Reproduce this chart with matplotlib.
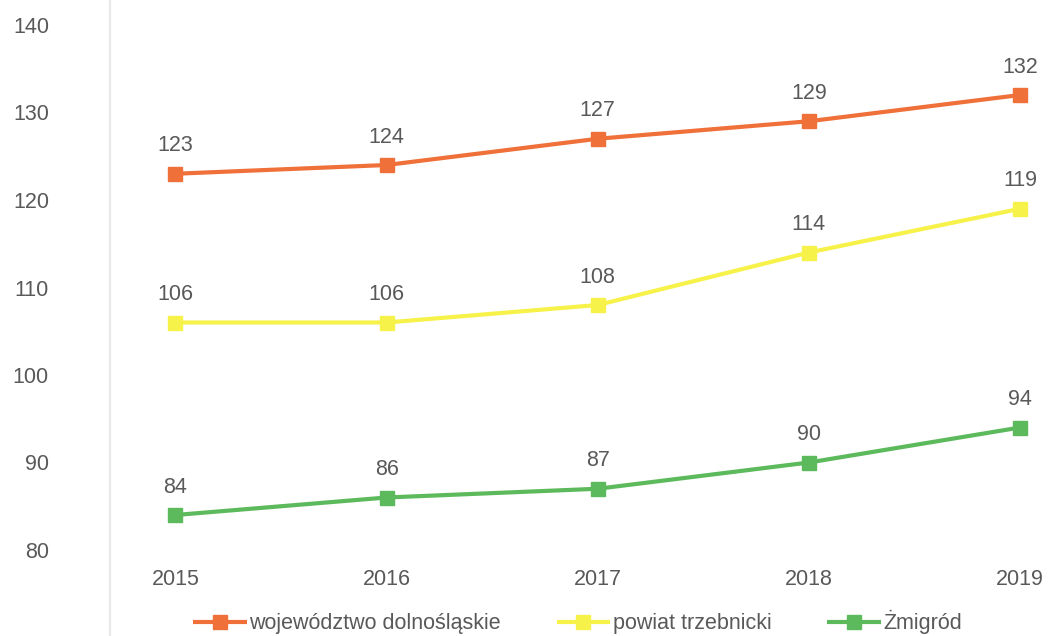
import matplotlib as mpl
mpl.use('Agg')
import matplotlib.pyplot as plt
from matplotlib.lines import Line2D

# dane
lata = ['2015', '2016', '2017', '2018', '2019']
wojewodztwo = [123, 124, 127, 129, 132]
powiat = [106, 106, 108, 114, 119]
zmigrod = [84, 86, 87, 90, 94]

serie = [
    ('województwo dolnośląskie', wojewodztwo, '#f0703a'),
    ('powiat trzebnicki', powiat, '#f6f24a'),
    ('Żmigród', zmigrod, '#5cba5c'),
]

plt.rcParams['font.family'] = ['Liberation Sans', 'DejaVu Sans']
kolor_tekstu = '#595959'

fig = plt.figure(figsize=(10.49, 6.36), dpi=100)
ax = fig.add_axes([110 / 1049, 1 - 550 / 636, 1 - 110 / 1049, (550 - 25) / 636])

x = list(range(len(lata)))
for nazwa, wartosci, kolor in serie:
    ax.plot(x, wartosci, color=kolor, lw=3, marker='s', ms=9.5,
            label=nazwa, solid_capstyle='butt')
    for xi, v in zip(x, wartosci):
        ax.annotate(str(v), (xi, v), xytext=(0, 20), textcoords='offset points',
                    ha='center', va='center', fontsize=15.5, color=kolor_tekstu)

ax.set_ylim(80, 140)
ax.set_yticks(range(80, 141, 10))
ax.set_xlim(-0.31, 4.137)
ax.set_xticks(x)
ax.set_xticklabels(lata)
ax.tick_params(axis='both', length=0, labelsize=15.5, labelcolor=kolor_tekstu)
ax.tick_params(axis='y', pad=44)
ax.tick_params(axis='x', pad=14)

for s in ax.spines.values():
    s.set_visible(False)

# delikatna pionowa linia na całą wysokość
fig.add_artist(Line2D([110 / 1049, 110 / 1049], [0, 1], transform=fig.transFigure,
                      color='#e8e8e8', lw=1.5))

fig.legend(loc='center', bbox_to_anchor=(0.5505, 0.022), ncol=3, frameon=False,
           fontsize=15.5, handlelength=2.5, handletextpad=0.1, columnspacing=2.6,
           labelcolor=kolor_tekstu)

fig.savefig('out.png', dpi=100)
